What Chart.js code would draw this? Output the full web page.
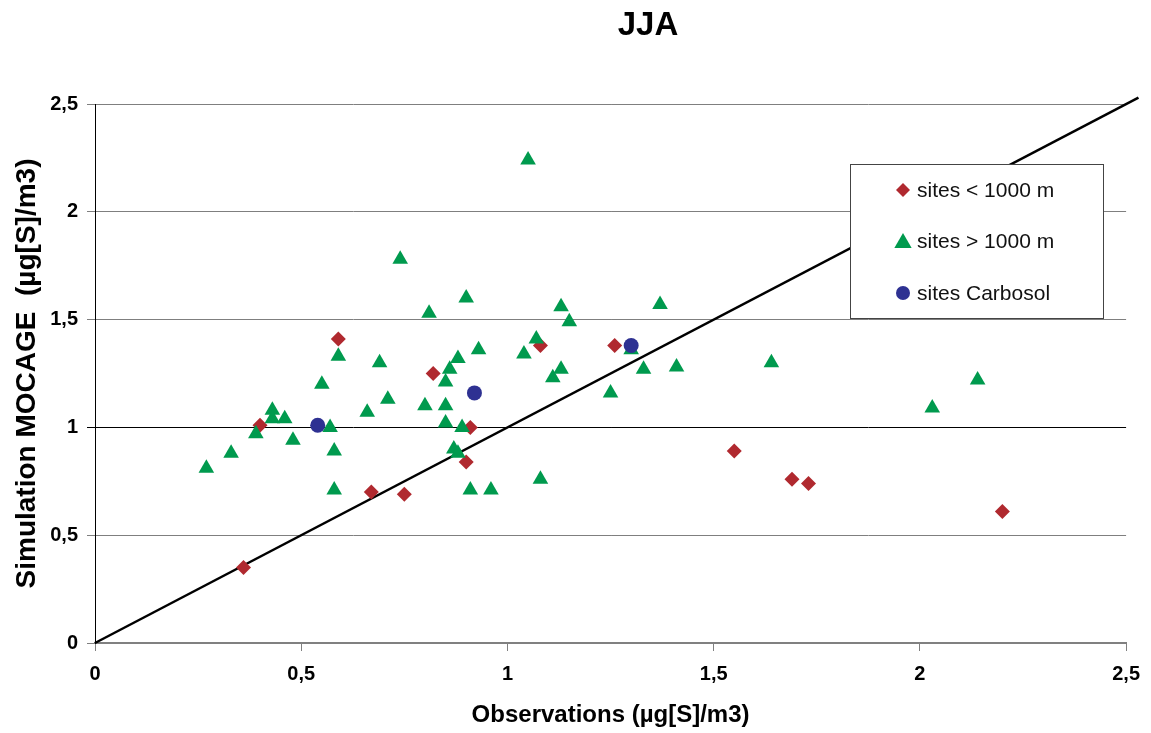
<!DOCTYPE html>
<html>
<head>
<meta charset="utf-8">
<script src="https://cdn.jsdelivr.net/npm/chart.js@4/dist/chart.umd.min.js"></script>
<style>
  html, body { margin: 0; padding: 0; background: #fff; }
</style>
</head>
<body>
<canvas id="chart" width="1151" height="733"></canvas>
<script>
// JJA - observations vs MOCAGE simulation
const title = 'JJA';
const xTitle = 'Observations (µg[S]/m3)';
const yTitle = 'Simulation MOCAGE  (µg[S]/m3)';
const seriesNames = ['sites < 1000 m', 'sites > 1000 m', 'sites Carbosol'];

const lowX = [0.36, 0.40, 0.59, 0.67, 0.75, 0.82, 0.90, 0.91, 1.08, 1.26, 1.55, 1.69, 1.73, 2.20];
const lowY = [0.35, 1.01, 1.41, 0.70, 0.69, 1.25, 0.84, 1.00, 1.38, 1.38, 0.89, 0.76, 0.74, 0.61];

const highX = [0.27, 0.33, 0.39, 0.43, 0.43, 0.46, 0.48, 0.55, 0.59, 0.57, 0.58, 0.58,
  0.66, 0.69, 0.71, 0.74, 0.80, 0.81, 0.85, 0.85, 0.85, 0.86, 0.88, 0.89, 0.87, 0.88,
  0.90, 0.91, 0.93, 0.96, 1.05, 1.04, 1.07, 1.08, 1.11, 1.13, 1.13, 1.15, 1.25, 1.30,
  1.33, 1.37, 1.41, 1.64, 2.03, 2.14];
const highY = [0.81, 0.88, 0.97, 1.08, 1.04, 1.04, 0.94, 1.20, 1.33, 1.00, 0.89, 0.71,
  1.07, 1.30, 1.13, 1.78, 1.10, 1.53, 1.21, 1.10, 1.02, 1.27, 1.32, 1.00, 0.90, 0.88,
  1.60, 0.71, 1.36, 0.71, 2.24, 1.34, 1.41, 0.76, 1.23, 1.56, 1.27, 1.49, 1.16, 1.36,
  1.27, 1.57, 1.28, 1.30, 1.09, 1.22];

const carbX = [0.54, 0.92, 1.30];
const carbY = [1.01, 1.16, 1.38];

const lineX = [0, 2.53];
const lineY = [0, 2.53];

const yTicks = [0, 0.5, 1, 1.5, 2, 2.5];

const colors = ['#B0292F', '#009A4E', '#2E3192'];
const shapes = ['rectRot', 'triangle', 'circle'];
const sizes = [7.5, 9, 7.5];

const pts = (xs, ys) => xs.map((x, i) => ({ x: x, y: ys[i] }));
const fmt = v => String(v).replace('.', ',');
const FONT = "'Liberation Sans', Arial, sans-serif";

const titlePlugin = {
  id: 'titleText',
  afterDraw(chart) {
    const ctx = chart.ctx;
    ctx.save();
    ctx.font = 'bold 33px ' + FONT;
    ctx.fillStyle = '#000';
    ctx.textAlign = 'center';
    ctx.textBaseline = 'middle';
    ctx.fillText(title, 648, 26);
    ctx.restore();
  }
};

function marker(ctx, shape, x, y, r) {
  ctx.beginPath();
  if (shape === 'rectRot') {
    ctx.moveTo(x - r, y); ctx.lineTo(x, y - r); ctx.lineTo(x + r, y); ctx.lineTo(x, y + r);
  } else if (shape === 'triangle') {
    ctx.moveTo(x, y - r);
    ctx.lineTo(x + r * 0.866, y + r * 0.5);
    ctx.lineTo(x - r * 0.866, y + r * 0.5);
  } else {
    ctx.arc(x, y, r, 0, Math.PI * 2);
  }
  ctx.closePath();
  ctx.fill();
}

const legendPlugin = {
  id: 'boxLegend',
  afterDraw(chart) {
    const ctx = chart.ctx;
    ctx.save();
    ctx.fillStyle = '#fff';
    ctx.fillRect(850, 164, 253, 154);
    ctx.strokeStyle = '#444';
    ctx.lineWidth = 1;
    ctx.strokeRect(850.5, 164.5, 253, 154);
    ctx.font = '21px ' + FONT;
    ctx.textBaseline = 'middle';
    ctx.textAlign = 'left';
    const rows = [190, 241, 293];
    seriesNames.forEach((name, i) => {
      ctx.fillStyle = colors[i];
      marker(ctx, shapes[i], 903, rows[i] + (i === 1 ? 2 : 0), i === 0 ? 7 : (i === 1 ? 10 : 7));
      ctx.fillStyle = '#111';
      ctx.fillText(name, 917, rows[i] + 1);
    });
    ctx.restore();
  }
};

new Chart(document.getElementById('chart'), {
  type: 'scatter',
  data: {
    datasets: [
      {
        label: seriesNames[2], data: pts(carbX, carbY), order: 1,
        pointStyle: shapes[2], pointRadius: sizes[2], pointBackgroundColor: colors[2],
        pointBorderWidth: 0, pointBorderColor: colors[2]
      },
      {
        label: seriesNames[1], data: pts(highX, highY), order: 2,
        pointStyle: shapes[1], pointRadius: sizes[1], pointBackgroundColor: colors[1],
        pointBorderWidth: 0, pointBorderColor: colors[1]
      },
      {
        label: seriesNames[0], data: pts(lowX, lowY), order: 3,
        pointStyle: shapes[0], pointRadius: sizes[0], pointBackgroundColor: colors[0],
        pointBorderWidth: 0, pointBorderColor: colors[0]
      },
      {
        label: '1:1', data: pts(lineX, lineY), order: 4, showLine: true,
        borderColor: '#000', borderWidth: 2.5, pointRadius: 0, clip: false
      }
    ]
  },
  options: {
    responsive: false,
    animation: false,
    events: [],
    layout: { padding: { left: 0, right: 24, top: 104, bottom: 0 } },
    plugins: {
      legend: { display: false },
      tooltip: { enabled: false },
      title: { display: false }
    },
    scales: {
      x: {
        type: 'linear', min: 0, max: 2.5,
        afterFit: s => { s.height = 90; },
        ticks: {
          stepSize: 0.5, padding: 11, color: '#000',
          font: { family: FONT, size: 20, weight: 'bold' },
          callback: v => fmt(v)
        },
        grid: { drawOnChartArea: false, drawTicks: true, tickLength: 8, color: '#808080' },
        border: { color: '#808080', width: 2 },
        title: {
          display: true, text: xTitle, color: '#000', padding: { top: 0, bottom: 3 },
          font: { family: FONT, size: 24, weight: 'bold' }
        }
      },
      y: {
        type: 'linear', min: 0, max: 2.5,
        afterFit: s => { s.width = 95; },
        afterBuildTicks: s => { s.ticks = yTicks.map(v => ({ value: v })); },
        ticks: {
          padding: 9, color: '#000',
          font: { family: FONT, size: 20, weight: 'bold' },
          callback: v => fmt(v)
        },
        grid: {
          tickLength: 8,
          color: c => (c.tick && c.tick.value === 1 ? '#000' : '#7f7f7f'),
          lineWidth: 1
        },
        border: { color: '#000', width: 1 },
        title: {
          display: true, text: yTitle, color: '#000', padding: { top: 10, bottom: 0 },
          font: { family: FONT, size: 28, weight: 'bold' }
        }
      }
    }
  },
  plugins: [titlePlugin, legendPlugin]
});
</script>
</body>
</html>
